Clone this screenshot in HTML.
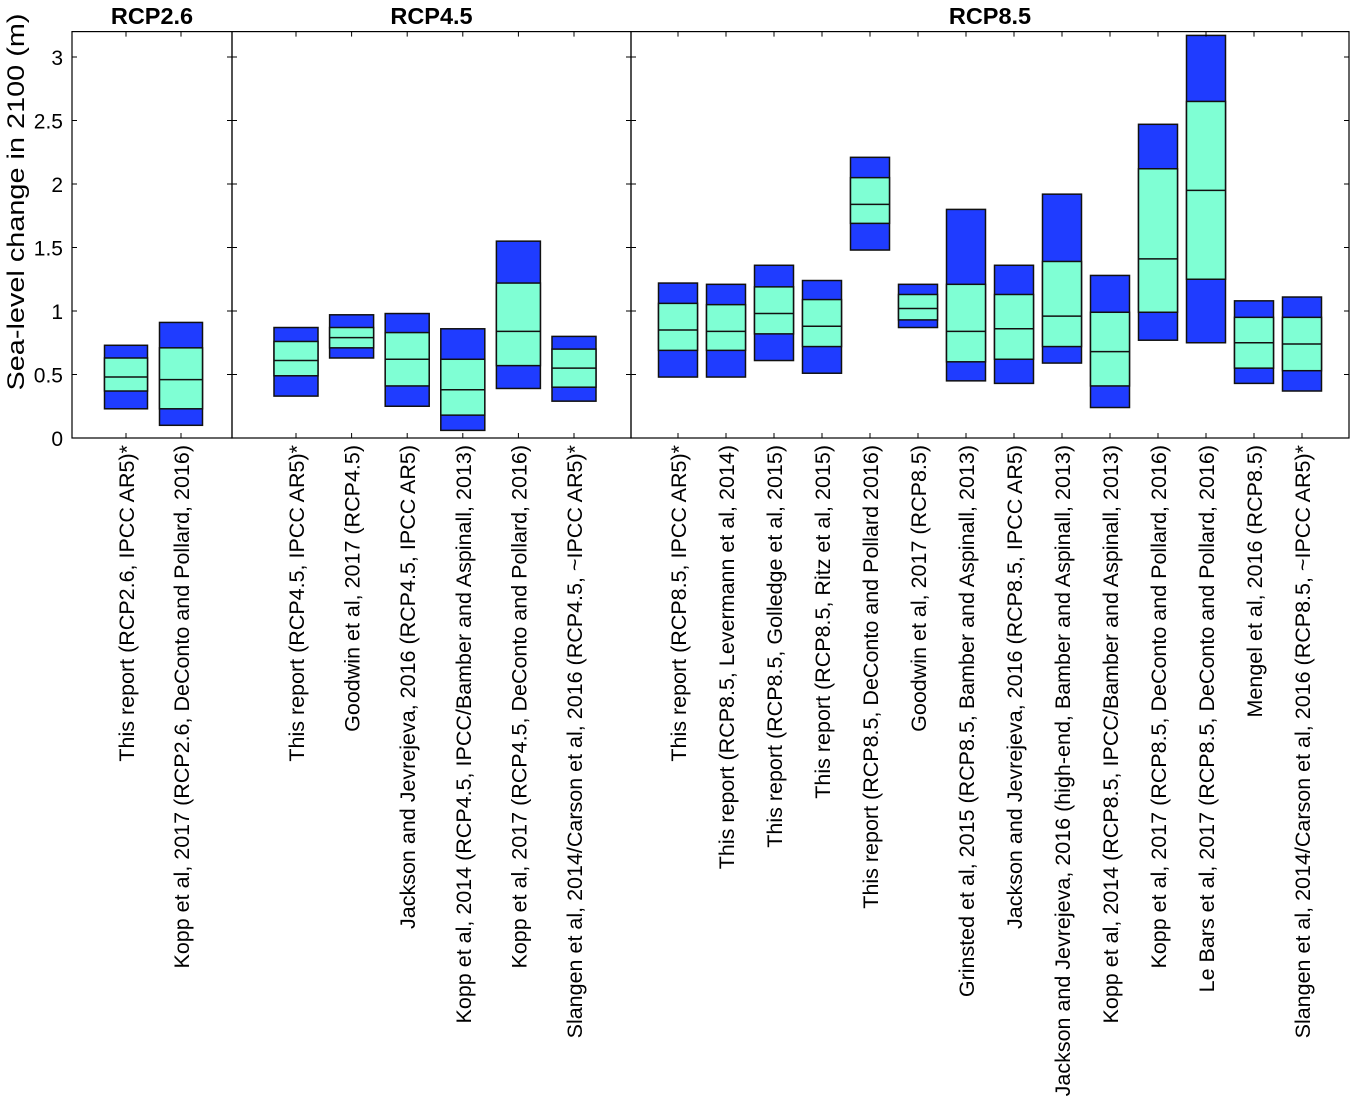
<!DOCTYPE html>
<html><head><meta charset="utf-8"><style>
body{margin:0;background:#fff;}
svg{display:block;font-family:"Liberation Sans",sans-serif;}
</style></head><body>
<svg id="chart" width="1352" height="1105" viewBox="0 0 1352 1105" xmlns="http://www.w3.org/2000/svg"></svg>
<script>
const panelTitles = ["RCP2.6","RCP4.5","RCP8.5"];
const labels26 = ["This report (RCP2.6, IPCC AR5)*","Kopp et al, 2017 (RCP2.6, DeConto and Pollard, 2016)"];
const lo26 = [0.23,0.10], qlo26=[0.37,0.23], med26=[0.48,0.46], qhi26=[0.63,0.71], hi26=[0.73,0.91];
const labels45 = ["This report (RCP4.5, IPCC AR5)*","Goodwin et al, 2017 (RCP4.5)","Jackson and Jevrejeva, 2016 (RCP4.5, IPCC AR5)","Kopp et al, 2014 (RCP4.5, IPCC/Bamber and Aspinall, 2013)","Kopp et al, 2017 (RCP4.5, DeConto and Pollard, 2016)","Slangen et al, 2014/Carson et al, 2016 (RCP4.5, ~IPCC AR5)*"];
const lo45=[0.33,0.63,0.25,0.06,0.39,0.29], qlo45=[0.49,0.71,0.41,0.18,0.57,0.40], med45=[0.61,0.79,0.62,0.38,0.84,0.55], qhi45=[0.76,0.87,0.83,0.62,1.22,0.70], hi45=[0.87,0.97,0.98,0.86,1.55,0.80];
const labels85 = ["This report (RCP8.5, IPCC AR5)*","This report (RCP8.5, Levermann et al, 2014)","This report (RCP8.5, Golledge et al, 2015)","This report (RCP8.5, Ritz et al, 2015)","This report (RCP8.5, DeConto and Pollard 2016)","Goodwin et al, 2017 (RCP8.5)","Grinsted et al, 2015 (RCP8.5, Bamber and Aspinall, 2013)","Jackson and Jevrejeva, 2016 (RCP8.5, IPCC AR5)","Jackson and Jevrejeva, 2016 (high-end, Bamber and Aspinall, 2013)","Kopp et al, 2014 (RCP8.5, IPCC/Bamber and Aspinall, 2013)","Kopp et al, 2017 (RCP8.5, DeConto and Pollard, 2016)","Le Bars et al, 2017 (RCP8.5, DeConto and Pollard, 2016)","Mengel et al, 2016 (RCP8.5)","Slangen et al, 2014/Carson et al, 2016 (RCP8.5, ~IPCC AR5)*"];
const lo85=[0.48,0.48,0.61,0.51,1.48,0.87,0.45,0.43,0.59,0.24,0.77,0.75,0.43,0.37];
const qlo85=[0.69,0.69,0.82,0.72,1.69,0.93,0.60,0.62,0.72,0.41,0.99,1.25,0.55,0.53];
const med85=[0.85,0.84,0.98,0.88,1.84,1.02,0.84,0.86,0.96,0.68,1.41,1.95,0.75,0.74];
const qhi85=[1.06,1.05,1.19,1.09,2.05,1.13,1.21,1.13,1.39,0.99,2.12,2.65,0.95,0.95];
const hi85=[1.22,1.21,1.36,1.24,2.21,1.21,1.80,1.36,1.92,1.28,2.47,3.17,1.08,1.11];
const yTicks=[0,0.5,1,1.5,2,2.5,3];
const yTickLabels=["0","0.5","1","1.5","2","2.5","3"];

const NS="http://www.w3.org/2000/svg";
const svg=document.getElementById('chart');
const Y0=438, PX=127, TOP=31.6;
const y=v=>Y0-v*PX;
function mk(tag,attrs,parent){const e=document.createElementNS(NS,tag);for(const k in attrs)e.setAttribute(k,attrs[k]);(parent||svg).appendChild(e);return e;}
const panels=[
 {x0:72,x1:232,c0:126,step:55,w:43,labels:labels26,lo:lo26,qlo:qlo26,med:med26,qhi:qhi26,hi:hi26},
 {x0:232,x1:631,c0:296,step:55.6,w:44,labels:labels45,lo:lo45,qlo:qlo45,med:med45,qhi:qhi45,hi:hi45},
 {x0:631,x1:1349,c0:678,step:48,w:39,labels:labels85,lo:lo85,qlo:qlo85,med:med85,qhi:qhi85,hi:hi85}
];
panels.forEach((p,pi)=>{
  const g=mk('g',{});
  
  
  const t=mk('text',{x:(p.x0+p.x1)/2,y:24,'text-anchor':'middle','font-size':23.5,'font-weight':'bold'},g);
  t.textContent=panelTitles[pi];
  
  
  p.labels.forEach((lab,i)=>{
    const cx=p.c0+i*p.step, x=cx-p.w/2;
    const bg=mk('g',{},g);
    
    
    mk('rect',{x:x,y:y(p.hi[i]),width:p.w,height:y(p.lo[i])-y(p.hi[i]),fill:'#1f3cff',stroke:'#111','stroke-width':1.5},bg);
    mk('rect',{x:x,y:y(p.qhi[i]),width:p.w,height:y(p.qlo[i])-y(p.qhi[i]),fill:'#7fffd4',stroke:'#111','stroke-width':1.5},bg);
    mk('line',{x1:x,x2:x+p.w,y1:y(p.med[i]),y2:y(p.med[i]),stroke:'#111','stroke-width':1.5},bg);
    mk('line',{x1:cx,x2:cx,y1:TOP,y2:TOP+5,stroke:'#000'},g);
    mk('line',{x1:cx,x2:cx,y1:Y0-5,y2:Y0,stroke:'#000'},g);
    const tx=mk('text',{x:0,y:0,'text-anchor':'end','font-size':21.5,transform:`translate(${cx+8},445) rotate(-90)`},g);
    tx.textContent=lab;
    
    
  });
  mk('rect',{x:p.x0,y:TOP,width:p.x1-p.x0,height:Y0-TOP,fill:'none',stroke:'#000','stroke-width':1.2},g);
  yTicks.forEach(v=>{
    mk('line',{x1:p.x0,x2:p.x0+5,y1:y(v),y2:y(v),stroke:'#000'},g);
    mk('line',{x1:p.x1-5,x2:p.x1,y1:y(v),y2:y(v),stroke:'#000'},g);
  });
});
yTicks.forEach((v,i)=>{
  const t=mk('text',{x:63,y:y(v)+8,'text-anchor':'end','font-size':21});
  t.textContent=yTickLabels[i];
  
  
});
const yt=mk('text',{x:0,y:0,'text-anchor':'middle','font-size':24,textLength:377,lengthAdjust:'spacingAndGlyphs',transform:'translate(24,202) rotate(-90)'});
yt.textContent='Sea-level change in 2100 (m)';


</script>
</body></html>
